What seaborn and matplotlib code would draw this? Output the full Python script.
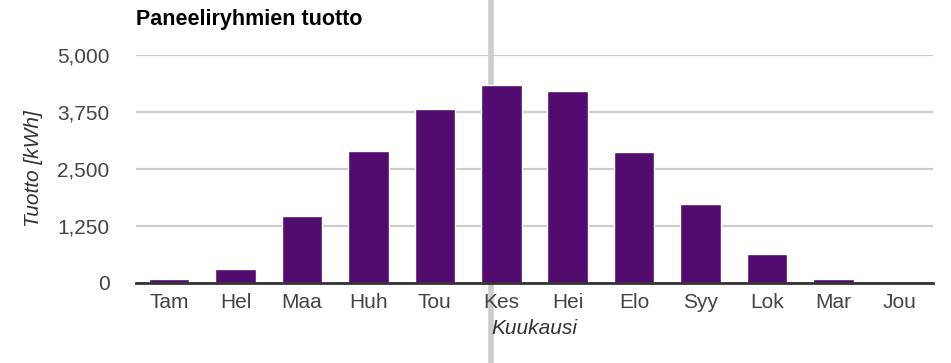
import matplotlib
matplotlib.use("Agg")
import matplotlib.pyplot as plt
import seaborn as sns
import pandas as pd
from matplotlib.lines import Line2D

months = ["Tam", "Hel", "Maa", "Huh", "Tou", "Kes", "Hei", "Elo", "Syy", "Lok", "Mar", "Jou"]
tuotto = [80, 315, 1480, 2905, 3805, 4335, 4210, 2870, 1735, 630, 80, 0]
yticks = [0, 1250, 2500, 3750, 5000]
ytick_labels = ["0", "1,250", "2,500", "3,750", "5,000"]

df = pd.DataFrame({"Kuukausi": months, "Tuotto": tuotto})

sns.set_theme(style="white")
plt.rcParams["font.family"] = ["Liberation Sans", "DejaVu Sans"]

fig = plt.figure(figsize=(9.51, 3.63), dpi=100)
ax = fig.add_axes([136 / 951, 1 - 283 / 363, (933 - 136) / 951, (283 - 55) / 363])
ax.set_facecolor("none")
ax.set_zorder(1)

sns.barplot(data=df, x="Kuukausi", y="Tuotto", color="#520b6f", saturation=1,
            width=0.61, ax=ax, zorder=3)

ax.set_ylim(0, 5000)
ax.set_xlim(-0.5, len(months) - 0.5)
ax.set_yticks(yticks)
ax.set_yticklabels(ytick_labels)
ax.grid(axis="y", color="#cccccc", linewidth=1.6, zorder=0)
ax.set_axisbelow(True)
for s in ["top", "right", "left"]:
    ax.spines[s].set_visible(False)
ax.spines["bottom"].set_color("#333333")
ax.spines["bottom"].set_linewidth(2)
ax.spines["bottom"].set_zorder(4)
ax.tick_params(axis="both", length=0, labelsize=15, colors="#444444")
ax.tick_params(axis="y", pad=19)
ax.tick_params(axis="x", pad=7)

ax.set_xlabel("Kuukausi", fontsize=15, style="italic", color="#333333", labelpad=5)
ax.set_ylabel("Tuotto [kWh]", fontsize=15, style="italic", color="#333333", labelpad=10)

fig.text(136 / 951, 1 - 20 / 363, "Paneeliryhmien tuotto", fontsize=15.5, fontweight="bold",
         color="#000000", ha="left", va="center")

# hover crosshair line, drawn behind the chart content
fig.add_artist(Line2D([491 / 951, 491 / 951], [0, 1], transform=fig.transFigure,
                      color="#cccccc", linewidth=4, zorder=0))

fig.savefig("out.png", dpi=100)
